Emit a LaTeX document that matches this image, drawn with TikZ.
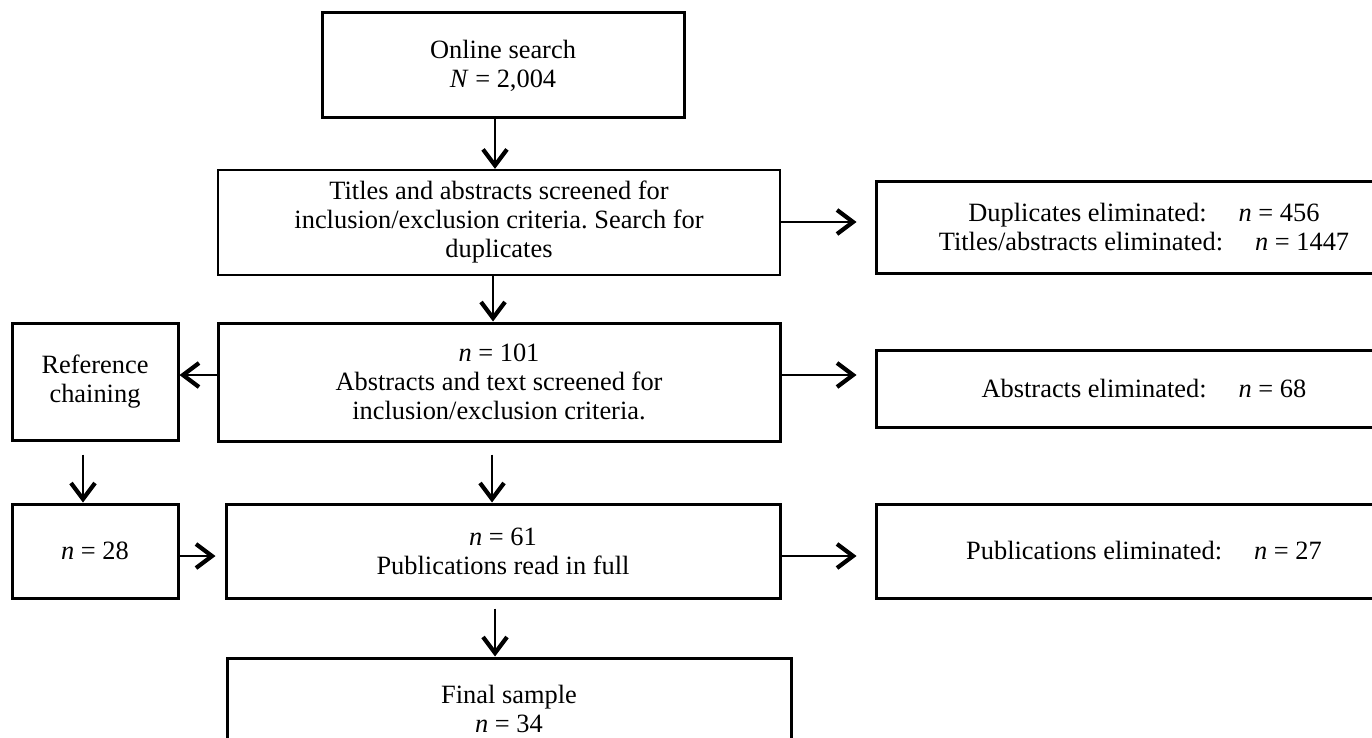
\documentclass[tikz,border=0pt]{standalone}
\usepackage{fontspec}
\setmainfont{Liberation Serif}
\usetikzlibrary{arrows.meta}
\begin{document}
\frenchspacing
\begin{tikzpicture}[x=0.5pt,y=-0.5pt,
  box/.style={draw, line width=1.5pt, align=center, inner sep=0pt,
    font=\fontsize{13.2}{14.5}\selectfont},
  arr/.style={line width=0.95pt, -{Straight Barb[length=8pt,width=12pt,line width=2.1pt]}},
  arrb/.style={arr, line width=1.35pt}]
\useasboundingbox (0,0) rectangle (1372,738);
\newcommand{\gapn}{\hspace{16pt}}
% nodes
\node[box, minimum width=181pt, minimum height=52.5pt] (online) at (503,65.5)
  {Online search\\\textit{N} = 2,004};
\node[box, line width=1.1pt, minimum width=281pt, minimum height=52.5pt] (titles) at (499,222.5)
  {Titles and abstracts screened for\\inclusion/exclusion criteria. Search for\\duplicates};
\node[box, minimum width=268pt, minimum height=45.5pt] (dup) at (1144,227.5)
  {Duplicates eliminated:\gapn\textit{n} = 456\\Titles/abstracts eliminated:\gapn\textit{n} = 1447};
\node[box, minimum width=83pt, minimum height=58.5pt] (ref) at (95,381.5)
  {Reference\\chaining};
\node[box, minimum width=281pt, minimum height=59pt] (n101) at (499,382)
  {\textit{n} = 101\\Abstracts and text screened for\\inclusion/exclusion criteria.};
\node[box, minimum width=268pt, minimum height=38.5pt] (abs) at (1144,388.5)
  {Abstracts eliminated:\gapn\textit{n} = 68};
\node[box, minimum width=83pt, minimum height=47pt] (n28) at (95,551)
  {\textit{n} = 28};
\node[box, minimum width=277pt, minimum height=47pt] (n61) at (503,551)
  {\textit{n} = 61\\Publications read in full};
\node[box, minimum width=268pt, minimum height=47pt] (pub) at (1144,551)
  {Publications eliminated:\gapn\textit{n} = 27};
\node[box, minimum width=282pt, minimum height=51pt] (final) at (509,709)
  {Final sample\\\textit{n} = 34};
% x positions of the vertical arrows
\coordinate (xa) at (495,0);
\coordinate (xb) at (493,0);
\coordinate (xc) at (83,0);
\coordinate (xd) at (492,0);
\coordinate (ye) at (0,375);
\coordinate (yf) at (0,222);
\coordinate (yg) at (0,556);
% connectors
\draw[arrb] (online.south -| xa) -- (titles.north -| xa);
\draw[arrb] (titles.south -| xb) -- (n101.north -| xb);
\draw[arr, shorten >=9pt] (titles.east |- yf) -- (dup.west |- yf);
\draw[arr] (n101.west |- ye) -- (ref.east |- ye);
\draw[arr, shorten >=9pt] (n101.east |- ye) -- (abs.west |- ye);
\draw[arr, shorten <=6.5pt] (ref.south -| xc) -- (n28.north -| xc);
\draw[arr, shorten <=6pt] (n101.south -| xd) -- (n61.north -| xd);
\draw[arr, shorten >=4.5pt] (n28.east |- yg) -- (n61.west |- yg);
\draw[arr, shorten >=9pt] (n61.east |- yg) -- (pub.west |- yg);
\draw[arr, shorten <=4.5pt] (n61.south -| xa) -- (final.north -| xa);
\end{tikzpicture}
\end{document}
